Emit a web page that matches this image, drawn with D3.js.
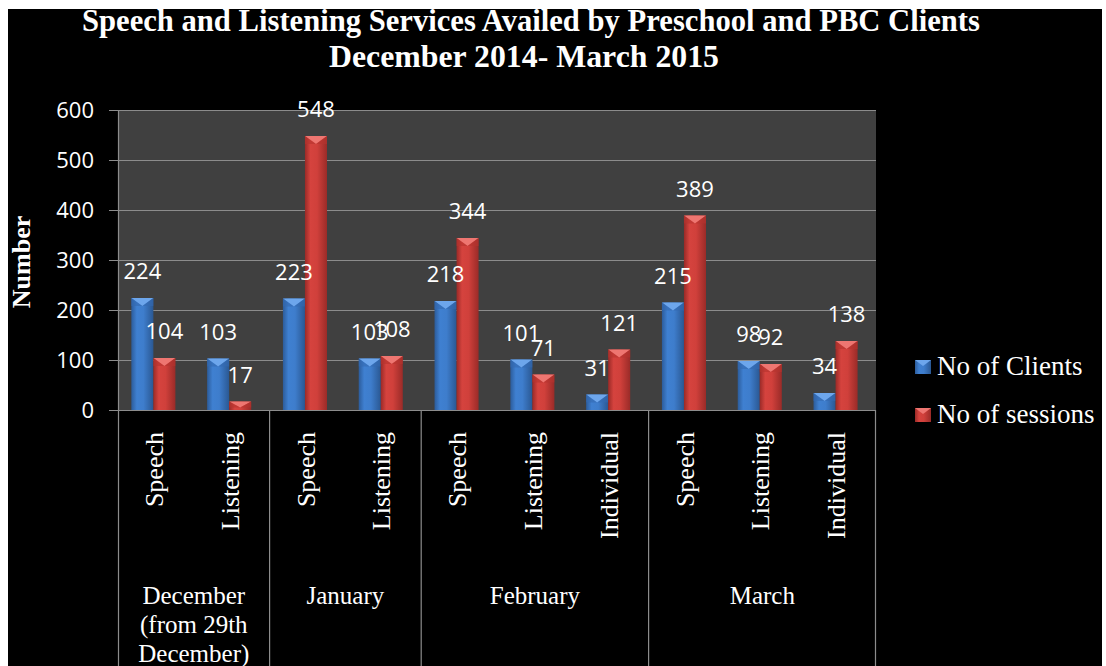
<!DOCTYPE html>
<html><head><meta charset="utf-8">
<script src="https://cdn.jsdelivr.net/npm/d3@7"></script>
<style>html,body{margin:0;padding:0;background:#fff;}svg{display:block;}</style>
</head><body>
<svg id="chart" width="1106" height="666"></svg>
<script>
const titleLines = ["Speech and Listening Services Availed by Preschool and PBC Clients", "December 2014- March 2015"];
const yAxisTitle = "Number";
const months = [["December", "(from 29th", "December)"], ["January"], ["February"], ["March"]];
const subcats = ["Speech","Listening","Speech","Listening","Speech","Listening","Individual","Speech","Listening","Individual"];
const monthOf = [0,0,1,1,2,2,2,3,3,3];
const seriesNames = ["No of Clients", "No of sessions"];
const clients = [224,103,223,103,218,101,31,215,98,34];
const sessions = [104,17,548,108,344,71,121,389,92,138];
const yTicks = [0,100,200,300,400,500,600];

const svg = d3.select("#chart");
const W = 1106, H = 666;
const plot = {l:118, r:876, t:110, b:410};
const serif = "'Liberation Serif','Times New Roman',serif";
const sans = "'Open Sans','Liberation Sans',sans-serif";

svg.append("rect").attr("x",0).attr("y",0).attr("width",W).attr("height",H).attr("fill","#fff");
svg.append("rect").attr("x",8).attr("y",9).attr("width",1094).attr("height",H-9).attr("fill","#000");

const defs = svg.append("defs");
function hgrad(id, stops){
  const g = defs.append("linearGradient").attr("id",id).attr("x1","0").attr("x2","1").attr("y1","0").attr("y2","0");
  stops.forEach(s=>g.append("stop").attr("offset",s[0]).attr("stop-color",s[1]));
}
hgrad("gBlue", [[0,"#2c5c9b"],[0.25,"#3f80d1"],[0.55,"#3e7dcc"],[1,"#2a5893"]]);
hgrad("gRed", [[0,"#9a2a27"],[0.25,"#d5433e"],[0.55,"#d0403b"],[1,"#9a2b28"]]);
const colors = {
  0:{fill:"url(#gBlue)", cap:"#6da6ec", side:"#3369b0"},
  1:{fill:"url(#gRed)", cap:"#ee7671", side:"#b5332f"}
};

// Title
const tl = [{t:titleLines[0], y:31, len:898, x:531},{t:titleLines[1], y:67, len:390, x:524}];
svg.selectAll("text.title").data(tl).enter().append("text").attr("class","title")
  .attr("x",d=>d.x).attr("y",d=>d.y).attr("text-anchor","middle")
  .attr("font-family",serif).attr("font-weight","bold").attr("font-size",31).attr("fill","#fff")
  .attr("textLength",d=>d.len).attr("lengthAdjust","spacingAndGlyphs").text(d=>d.t);

// Scales
const y = d3.scaleLinear().domain([0,600]).range([plot.b, plot.t]);
const x0 = d3.scaleBand().domain(d3.range(subcats.length)).range([plot.l, plot.r]).paddingInner(0).paddingOuter(0);
const x1 = d3.scaleBand().domain([0,1]).range([0, x0.bandwidth()]).paddingInner(0).paddingOuter(0.72).align(0.42);

// Plot bg
svg.append("rect").attr("x",plot.l).attr("y",plot.t).attr("width",plot.r-plot.l).attr("height",plot.b-plot.t).attr("fill","#404040");

// gridlines + ticks
const grid = svg.append("g");
grid.selectAll("line.g").data(yTicks).enter().append("line")
  .attr("x1",plot.l-9).attr("x2",plot.r).attr("y1",d=>y(d)+0.5).attr("y2",d=>y(d)+0.5)
  .attr("stroke","#8c8c8c").attr("stroke-width",1.2);
svg.append("line").attr("x1",plot.l+0.5).attr("x2",plot.l+0.5).attr("y1",plot.t).attr("y2",H).attr("stroke","#8c8c8c").attr("stroke-width",1.2);
svg.append("line").attr("x1",plot.r-0.5).attr("x2",plot.r-0.5).attr("y1",plot.b).attr("y2",H).attr("stroke","#8c8c8c").attr("stroke-width",1.2);

// y tick labels via axis
const yAxis = d3.axisLeft(y).tickValues(yTicks).tickSize(0).tickPadding(0);
const ya = svg.append("g").attr("transform",`translate(${plot.l-24},0)`).call(yAxis);
ya.select(".domain").remove();
ya.selectAll("text").attr("font-family",sans).attr("font-size",22).attr("fill","#fff").attr("dy","0.36em");

// y title
svg.append("text").attr("transform","translate(30,262) rotate(-90)").attr("text-anchor","middle")
  .attr("font-family",serif).attr("font-weight","bold").attr("font-size",26).attr("fill","#fff").text(yAxisTitle);

// bars
const barData = [];
subcats.forEach((s,i)=>{
  [clients[i], sessions[i]].forEach((v,k)=>barData.push({i,k,v}));
});
const bars = svg.append("g");
barData.forEach(d=>{
  const bx = x0(d.i) + x1(d.k), bw = x1.bandwidth();
  const top = y(d.v), h = plot.b - top;
  const c = colors[d.k];
  const g = bars.append("g");
  g.append("rect").attr("x",bx).attr("y",top).attr("width",bw).attr("height",h).attr("fill",c.fill);
  const th = Math.min(8, h*0.7);
  g.append("polygon").attr("points",`${bx},${top} ${bx+bw},${top} ${bx+bw/2},${top+th}`).attr("fill",c.cap);
  g.append("polygon").attr("points",`${bx},${top} ${bx+bw/2},${top+th} ${bx},${top+th}`).attr("fill",c.side).attr("opacity",0.6);
  g.append("polygon").attr("points",`${bx+bw},${top} ${bx+bw/2},${top+th} ${bx+bw},${top+th}`).attr("fill",c.side).attr("opacity",0.6);
});

// data labels
svg.append("g").selectAll("text").data(barData).enter().append("text")
  .attr("x",d=>x0(d.i)+x1(d.k)+x1.bandwidth()/2).attr("y",d=>y(d.v)-19)
  .attr("text-anchor","middle").attr("font-family",sans).attr("font-size",22).attr("fill","#fff")
  .text(d=>d.v);

// bottom axis line
svg.append("line").attr("x1",plot.l).attr("x2",plot.r).attr("y1",plot.b+0.5).attr("y2",plot.b+0.5).attr("stroke","#8c8c8c").attr("stroke-width",1.2);

// month separators
const bounds = [];
for(let i=1;i<monthOf.length;i++){ if(monthOf[i]!==monthOf[i-1]) bounds.push(i); }
svg.append("g").selectAll("line").data(bounds).enter().append("line")
  .attr("x1",d=>x0(d)).attr("x2",d=>x0(d)).attr("y1",plot.b).attr("y2",H)
  .attr("stroke","#8c8c8c").attr("stroke-width",1.2);

// sub category labels
svg.append("g").selectAll("text").data(subcats).enter().append("text")
  .attr("transform",(d,i)=>`translate(${x0(i)+x0.bandwidth()/2+7},432) rotate(-90)`)
  .attr("text-anchor","end").attr("font-family",serif).attr("font-size",26).attr("fill","#fff").text(d=>d);

// month labels
months.forEach((lines,m)=>{
  const idx = monthOf.map((v,i)=>v===m?i:-1).filter(i=>i>=0);
  const cx = (x0(idx[0]) + x0(idx[idx.length-1]) + x0.bandwidth())/2;
  const t = svg.append("text").attr("text-anchor","middle").attr("font-family",serif).attr("font-size",25).attr("fill","#fff");
  lines.forEach((ln,j)=>t.append("tspan").attr("x",cx).attr("y",604+j*29).text(ln));
});

// legend
const leg = svg.append("g");
seriesNames.forEach((n,k)=>{
  const ly = 360 + k*48;
  const c = colors[k];
  leg.append("rect").attr("x",915).attr("y",ly).attr("width",16).attr("height",14).attr("fill",c.fill);
  leg.append("polygon").attr("points",`915,${ly} 931,${ly} 923,${ly+6}`).attr("fill",c.cap);
  leg.append("text").attr("x",937).attr("y",ly+15).attr("font-family",serif).attr("font-size",27).attr("fill","#fff").text(n);
});
</script>
</body></html>
